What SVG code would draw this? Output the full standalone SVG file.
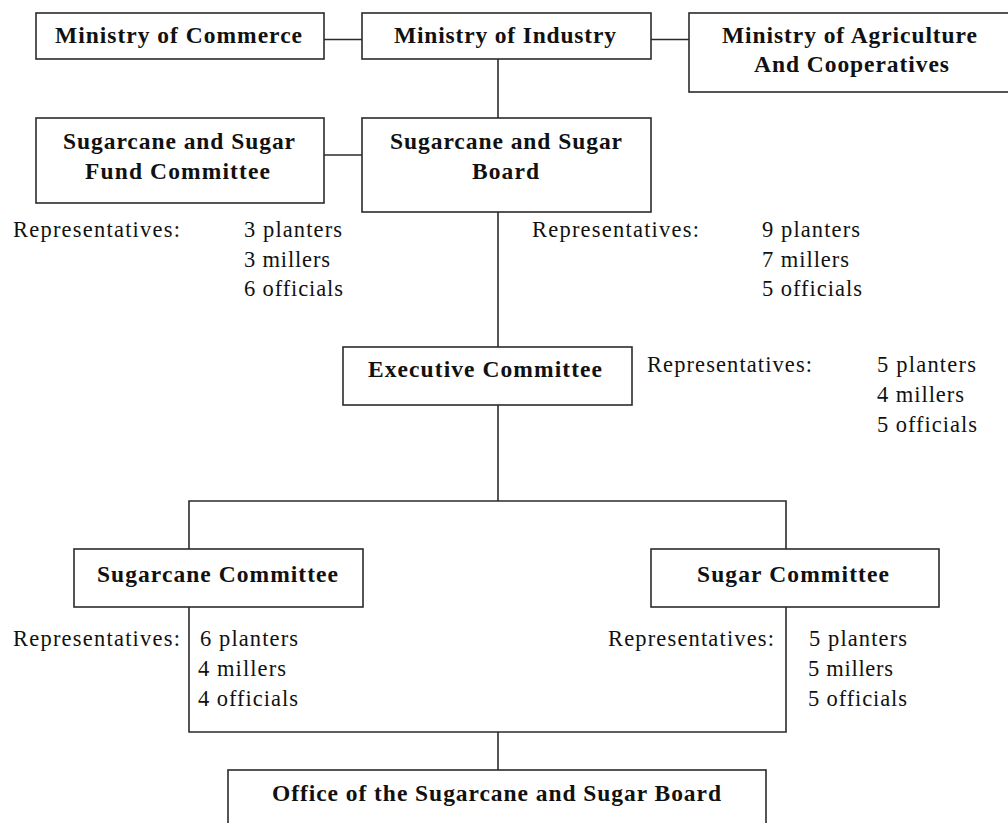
<svg xmlns="http://www.w3.org/2000/svg" width="1008" height="823" viewBox="0 0 1008 823">
  <style>
    .box { fill: #ffffff; stroke: #2b2b2b; stroke-width: 1.6; }
    .link { fill: none; stroke: #2b2b2b; stroke-width: 1.6; }
    .title { font-family: "Liberation Serif", "Times New Roman", serif; font-weight: bold; font-size: 23.5px; fill: #111; }
    .rep { font-family: "Liberation Serif", "Times New Roman", serif; font-size: 22.5px; fill: #111; }
  </style>
  <rect width="1008" height="823" fill="#ffffff"/>

  <!-- connectors -->
  <g id="connectors">
    <line class="link" x1="324" y1="39.5" x2="362" y2="39.5"/>
    <line class="link" x1="651" y1="39.5" x2="689" y2="39.5"/>
    <line class="link" x1="498" y1="59" x2="498" y2="118"/>
    <line class="link" x1="324" y1="155" x2="362" y2="155"/>
    <line class="link" x1="498" y1="212" x2="498" y2="347"/>
    <line class="link" x1="498" y1="405" x2="498" y2="501"/>
    <polyline class="link" points="189,549 189,501 786,501 786,549"/>
    <polyline class="link" points="189,607 189,732 786,732 786,607"/>
    <line class="link" x1="498" y1="732" x2="498" y2="770"/>
  </g>

  <g id="ministry-commerce">
    <rect class="box" x="36" y="13" width="288" height="46"/>
    <text class="title" x="55" y="43" textLength="247" lengthAdjust="spacing">Ministry of Commerce</text>
  </g>

  <g id="ministry-industry">
    <rect class="box" x="362" y="13" width="289" height="46"/>
    <text class="title" x="394" y="43" textLength="222" lengthAdjust="spacing">Ministry of Industry</text>
  </g>

  <g id="ministry-agriculture">
    <rect class="box" x="689" y="13" width="325" height="79"/>
    <text class="title" x="722" y="43" textLength="255" lengthAdjust="spacing">Ministry of Agriculture</text>
    <text class="title" x="754" y="72" textLength="195" lengthAdjust="spacing">And Cooperatives</text>
  </g>

  <g id="fund-committee">
    <rect class="box" x="36" y="118" width="288" height="85"/>
    <text class="title" x="63" y="149" textLength="232" lengthAdjust="spacing">Sugarcane and Sugar</text>
    <text class="title" x="85" y="179" textLength="185" lengthAdjust="spacing">Fund Committee</text>
    <text class="rep" x="13" y="237" textLength="167" lengthAdjust="spacing">Representatives:</text>
    <text class="rep" x="244" y="237" textLength="98" lengthAdjust="spacing">3 planters</text>
    <text class="rep" x="244" y="267" textLength="86" lengthAdjust="spacing">3 millers</text>
    <text class="rep" x="244" y="296" textLength="99" lengthAdjust="spacing">6 officials</text>
  </g>

  <g id="board">
    <rect class="box" x="362" y="118" width="289" height="94"/>
    <text class="title" x="390" y="149" textLength="232" lengthAdjust="spacing">Sugarcane and Sugar</text>
    <text class="title" x="472" y="179" textLength="67" lengthAdjust="spacing">Board</text>
    <text class="rep" x="532" y="237" textLength="167" lengthAdjust="spacing">Representatives:</text>
    <text class="rep" x="762" y="237" textLength="98" lengthAdjust="spacing">9 planters</text>
    <text class="rep" x="762" y="267" textLength="87" lengthAdjust="spacing">7 millers</text>
    <text class="rep" x="762" y="296" textLength="100" lengthAdjust="spacing">5 officials</text>
  </g>

  <g id="executive-committee">
    <rect class="box" x="343" y="347" width="289" height="58"/>
    <text class="title" x="368" y="377" textLength="234" lengthAdjust="spacing">Executive Committee</text>
    <text class="rep" x="647" y="372" textLength="165" lengthAdjust="spacing">Representatives:</text>
    <text class="rep" x="877" y="372" textLength="99" lengthAdjust="spacing">5 planters</text>
    <text class="rep" x="877" y="402" textLength="87" lengthAdjust="spacing">4 millers</text>
    <text class="rep" x="877" y="432" textLength="100" lengthAdjust="spacing">5 officials</text>
  </g>

  <g id="sugarcane-committee">
    <rect class="box" x="74" y="549" width="289" height="58"/>
    <text class="title" x="97" y="582" textLength="241" lengthAdjust="spacing">Sugarcane Committee</text>
    <text class="rep" x="13" y="646" textLength="167" lengthAdjust="spacing">Representatives:</text>
    <text class="rep" x="200" y="646" textLength="98" lengthAdjust="spacing">6 planters</text>
    <text class="rep" x="198" y="676" textLength="88" lengthAdjust="spacing">4 millers</text>
    <text class="rep" x="198" y="706" textLength="100" lengthAdjust="spacing">4 officials</text>
  </g>

  <g id="sugar-committee">
    <rect class="box" x="651" y="549" width="288" height="58"/>
    <text class="title" x="697" y="582" textLength="192" lengthAdjust="spacing">Sugar Committee</text>
    <text class="rep" x="608" y="646" textLength="166" lengthAdjust="spacing">Representatives:</text>
    <text class="rep" x="809" y="646" textLength="98" lengthAdjust="spacing">5 planters</text>
    <text class="rep" x="808" y="676" textLength="85" lengthAdjust="spacing">5 millers</text>
    <text class="rep" x="808" y="706" textLength="99" lengthAdjust="spacing">5 officials</text>
  </g>

  <g id="board-office">
    <rect class="box" x="228" y="770" width="538" height="70"/>
    <text class="title" x="272" y="801" textLength="449" lengthAdjust="spacing">Office of the Sugarcane and Sugar Board</text>
  </g>
</svg>
